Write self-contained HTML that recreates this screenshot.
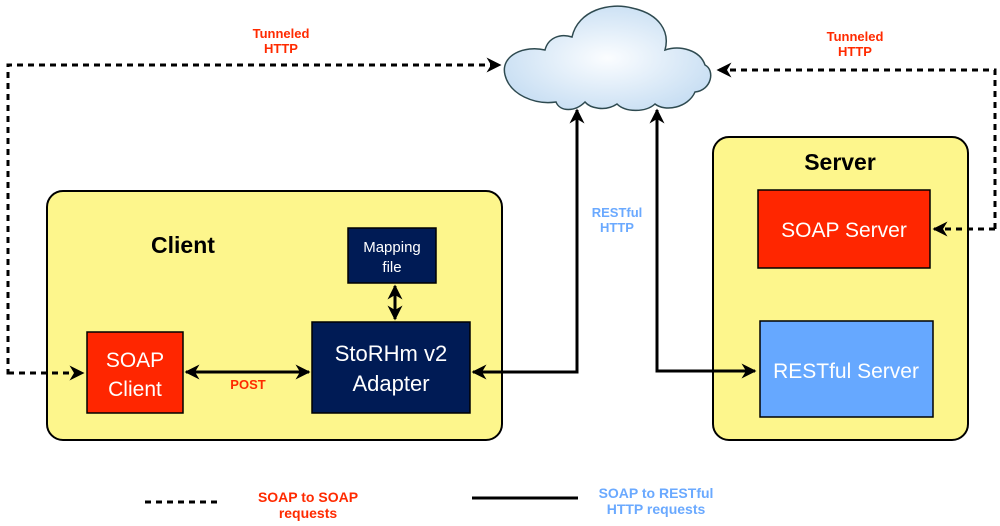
<!DOCTYPE html>
<html><head><style>
body{margin:0;background:#fff}
svg{display:block}
text{font-family:"Liberation Sans",sans-serif}
</style></head><body>
<svg width="1000" height="526" viewBox="0 0 1000 526" xmlns="http://www.w3.org/2000/svg">
<defs>
<marker id="ah" viewBox="0 0 10 10" refX="9" refY="5" markerWidth="5" markerHeight="5" orient="auto-start-reverse">
<path d="M0,0 L10,5 L0,10 L3,5 z" fill="#000"/></marker>
<radialGradient id="cg" cx="0.5" cy="0.5" r="0.6"><stop offset="0" stop-color="#fbfdff"/><stop offset="1" stop-color="#c4dcf2"/></radialGradient>
</defs>
<path d="M505,75 C500,55 525,45 545,50 C548,38 560,33 572,37 C578,10 610,2 632,8 C660,14 670,32 665,50 C680,45 700,50 705,65 C715,70 712,90 695,92 C688,108 665,112 655,104 C645,113 625,112 617,104 C605,112 590,108 585,102 C575,112 560,112 556,102 C535,105 510,95 505,75 z" fill="url(#cg)" stroke="#2e4a50" stroke-width="1.5"/>
<rect x="47" y="191" width="455" height="249" rx="16" fill="#fdf68c" stroke="#000" stroke-width="2"/>
<rect x="713" y="137" width="255" height="303" rx="16" fill="#fdf68c" stroke="#000" stroke-width="2"/>
<rect x="87" y="332" width="96" height="81" fill="#ff2600" stroke="#000" stroke-width="1.5"/>
<rect x="312" y="322" width="158" height="91" fill="#001b55" stroke="#000" stroke-width="1.5"/>
<rect x="348" y="228" width="88" height="55" fill="#001b55" stroke="#000" stroke-width="1.5"/>
<rect x="758" y="190" width="172" height="78" fill="#ff2600" stroke="#000" stroke-width="1.5"/>
<rect x="760" y="321" width="173" height="96" fill="#66a8ff" stroke="#000" stroke-width="1.5"/>
<g fill="none" stroke="#000" stroke-width="3" stroke-dasharray="6,5">
<polyline points="10,373 8,373 8,65 500,65" marker-end="url(#ah)"/>
<line x1="8" y1="373" x2="83" y2="373" marker-end="url(#ah)"/>
<polyline points="995,229 995,70 718,70" marker-end="url(#ah)"/>
<line x1="995" y1="229" x2="934" y2="229" marker-end="url(#ah)"/>
<line x1="145" y1="502" x2="222" y2="502"/>
</g>
<g fill="none" stroke="#000" stroke-width="3">
<line x1="186" y1="372" x2="309" y2="372" marker-start="url(#ah)" marker-end="url(#ah)"/>
<line x1="395" y1="286" x2="395" y2="319" marker-start="url(#ah)" marker-end="url(#ah)"/>
<polyline points="473,372 577,372 577,110" marker-start="url(#ah)" marker-end="url(#ah)"/>
<polyline points="657,110 657,371 755,371" marker-start="url(#ah)" marker-end="url(#ah)"/>
<line x1="472" y1="498" x2="578" y2="498"/>
</g>
<g font-weight="bold" font-size="13" text-anchor="middle" fill="#ff2a00">
<text x="281" y="38">Tunneled</text><text x="281" y="53">HTTP</text>
<text x="855" y="41">Tunneled</text><text x="855" y="56">HTTP</text>
<text x="248" y="389">POST</text>
<text x="308" y="502" font-size="14">SOAP to SOAP</text><text x="308" y="518" font-size="14">requests</text>
</g>
<g font-weight="bold" font-size="13" text-anchor="middle" fill="#6aa9ff">
<text x="617" y="217">RESTful</text><text x="617" y="232">HTTP</text>
<text x="656" y="498" font-size="14">SOAP to RESTful</text><text x="656" y="514" font-size="14">HTTP requests</text>
</g>
<g font-weight="bold" font-size="23" text-anchor="middle" fill="#000">
<text x="183" y="253">Client</text><text x="840" y="170">Server</text>
</g>
<g fill="#fff" text-anchor="middle">
<text x="135" y="367" font-size="21">SOAP</text><text x="135" y="396" font-size="21">Client</text>
<text x="391" y="361" font-size="22">StoRHm v2</text><text x="391" y="391" font-size="22">Adapter</text>
<text x="392" y="252" font-size="15">Mapping</text><text x="392" y="272" font-size="15">file</text>
<text x="844" y="237" font-size="21">SOAP Server</text>
<text x="846" y="378" font-size="21">RESTful Server</text>
</g>
</svg>
</body></html>
